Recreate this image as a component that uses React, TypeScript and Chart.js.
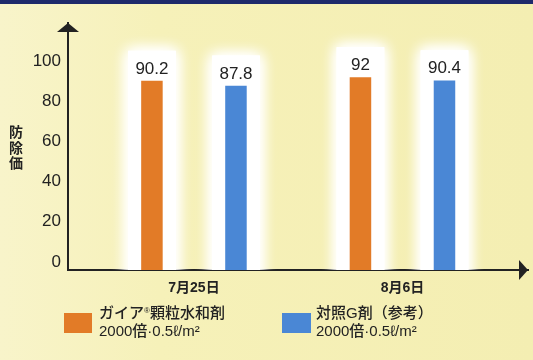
import React, { useEffect, useRef } from "react";
import { Chart, registerables } from "chart.js";

Chart.register(...registerables);

const categories = ["7月25日", "8月6日"];
const gaiaValues = [90.2, 92];
const controlValues = [87.8, 90.4];
const yTickValues = [0, 20, 40, 60, 80, 100];
const yTitleChars = ["防", "除", "価"];
const seriesNames = ["ガイア", "顆粒水和剤", "対照G剤（参考）"];
const seriesRate = "2000倍·0.5ℓ/m²";

const ORANGE = "#E27B27";
const BLUE = "#4A87D5";
const INK = "#222222";
const FONT = "'Liberation Sans', 'Noto Sans CJK JP', sans-serif";

const glowPlugin = {
  id: "glow",
  beforeDatasetsDraw(chart: any) {
    const ctx = chart.ctx;
    const area = chart.chartArea;
    ctx.save();
    ctx.beginPath();
    ctx.rect(area.left + 2, area.top, area.right - area.left, area.bottom - area.top);
    ctx.clip();
    chart.data.datasets.forEach((_: any, di: number) => {
      const meta = chart.getDatasetMeta(di);
      meta.data.forEach((bar: any) => {
        const w = bar.width + 26;
        const top = bar.y - 30;
        ctx.shadowColor = "rgba(255,255,255,1)";
        ctx.shadowBlur = 14;
        ctx.fillStyle = "#ffffff";
        for (let k = 0; k < 3; k++) {
          ctx.fillRect(bar.x - w / 2, top, w, area.bottom - top + 20);
        }
      });
    });
    ctx.restore();
  },
};

const labelPlugin = {
  id: "valueLabels",
  afterDatasetsDraw(chart: any) {
    const ctx = chart.ctx;
    ctx.save();
    ctx.fillStyle = INK;
    ctx.font = `17px ${FONT}`;
    ctx.textAlign = "center";
    ctx.textBaseline = "alphabetic";
    chart.data.datasets.forEach((ds: any, di: number) => {
      const meta = chart.getDatasetMeta(di);
      meta.data.forEach((bar: any, i: number) => {
        ctx.fillText(String(ds.data[i].y), bar.x, bar.y - 7);
      });
    });
    ctx.restore();
  },
};

const axisDecorPlugin = {
  id: "axisDecor",
  afterDraw(chart: any) {
    const ctx = chart.ctx;
    const a = chart.chartArea;
    ctx.save();
    ctx.fillStyle = INK;
    // y arrow
    ctx.beginPath();
    ctx.moveTo(a.left, a.top);
    ctx.lineTo(a.left - 11, a.top + 9);
    ctx.lineTo(a.left + 11, a.top + 9);
    ctx.closePath();
    ctx.fill();
    // x arrow
    ctx.beginPath();
    ctx.moveTo(a.right, a.bottom);
    ctx.lineTo(a.right - 9, a.bottom - 10);
    ctx.lineTo(a.right - 9, a.bottom + 10);
    ctx.closePath();
    ctx.fill();
    // y title (vertical stacked)
    ctx.font = `bold 14px 'Noto Sans CJK JP', sans-serif`;
    ctx.textAlign = "center";
    ctx.textBaseline = "middle";
    yTitleChars.forEach((c, i) => {
      ctx.fillText(c, 16, 132 + i * 15.5);
    });
    ctx.restore();
  },
};

export default function App() {
  const ref = useRef<HTMLCanvasElement>(null);

  useEffect(() => {
    if (!ref.current) return;
    const chart = new Chart(ref.current, {
      type: "bar",
      data: {
        datasets: [
          {
            label: seriesNames[0] + seriesNames[1],
            data: gaiaValues.map((v, i) => ({ x: i, y: v })),
            backgroundColor: ORANGE,
            base: -4,
          } as any,
          {
            label: seriesNames[2],
            data: controlValues.map((v, i) => ({ x: i, y: v })),
            backgroundColor: BLUE,
            base: -4,
          } as any,
        ],
      },
      options: {
        responsive: false,
        animation: false,
        categoryPercentage: 0.806,
        barPercentage: 0.256,
        layout: { padding: { top: 23, right: 5, bottom: 60, left: 0 } },
        plugins: {
          legend: { display: false },
          tooltip: { enabled: false },
        },
        scales: {
          x: {
            type: "linear",
            offset: false,
            min: -0.604,
            max: 1.602,
            grid: { display: false, drawTicks: false },
            border: { display: true, color: INK, width: 2 },
            afterBuildTicks: (scale: any) => {
              scale.ticks = categories.map((_, i) => ({ value: i }));
            },
            afterFit: (scale: any) => {
              scale.height = 30;
            },
            ticks: {
              padding: 10,
              color: INK,
              font: { family: FONT, size: 14, weight: "bold" },
              callback: (v: any) => categories[v] ?? "",
            },
          },
          y: {
            type: "linear",
            min: -4,
            max: 119,
            grid: { display: false, drawTicks: false },
            border: { display: true, color: INK, width: 2 },
            afterBuildTicks: (scale: any) => {
              scale.ticks = yTickValues.map((v) => ({ value: v }));
            },
            afterFit: (scale: any) => {
              scale.width = 68;
            },
            ticks: {
              padding: 7,
              color: INK,
              font: { family: FONT, size: 17 },
            },
          },
        },
      } as any,
      plugins: [glowPlugin, labelPlugin, axisDecorPlugin],
    });
    return () => chart.destroy();
  }, []);

  const legendText: React.CSSProperties = {
    position: "absolute",
    fontFamily: FONT,
    fontSize: 15,
    fontWeight: 500,
    color: INK,
    lineHeight: "18px",
    whiteSpace: "nowrap",
  };

  return (
    <div
      style={{
        position: "absolute",
        left: 0,
        top: 0,
        width: 533,
        height: 360,
        overflow: "hidden",
        background: "linear-gradient(90deg, #F8F4CA 0%, #F6F1B9 30%, #F4EEB2 100%)",
        borderTop: "4px solid #1E2A6B",
        boxSizing: "border-box",
      }}
    >
      <canvas
        ref={ref}
        width={533}
        height={360}
        style={{ position: "absolute", left: 0, top: -4, width: 533, height: 360 }}
      />
      <div style={{ position: "absolute", left: 64, top: 309, width: 28, height: 20, background: ORANGE }} />
      <div style={{ ...legendText, left: 99, top: 300 }}>
        {seriesNames[0]}
        <span style={{ fontSize: 8, position: "relative", top: -5 }}>®</span>
        {seriesNames[1]}
      </div>
      <div style={{ ...legendText, left: 99, top: 318 }}>{seriesRate}</div>
      <div style={{ position: "absolute", left: 282, top: 309, width: 29, height: 20, background: BLUE }} />
      <div style={{ ...legendText, left: 316, top: 300 }}>{seriesNames[2]}</div>
      <div style={{ ...legendText, left: 316, top: 318 }}>{seriesRate}</div>
    </div>
  );
}
